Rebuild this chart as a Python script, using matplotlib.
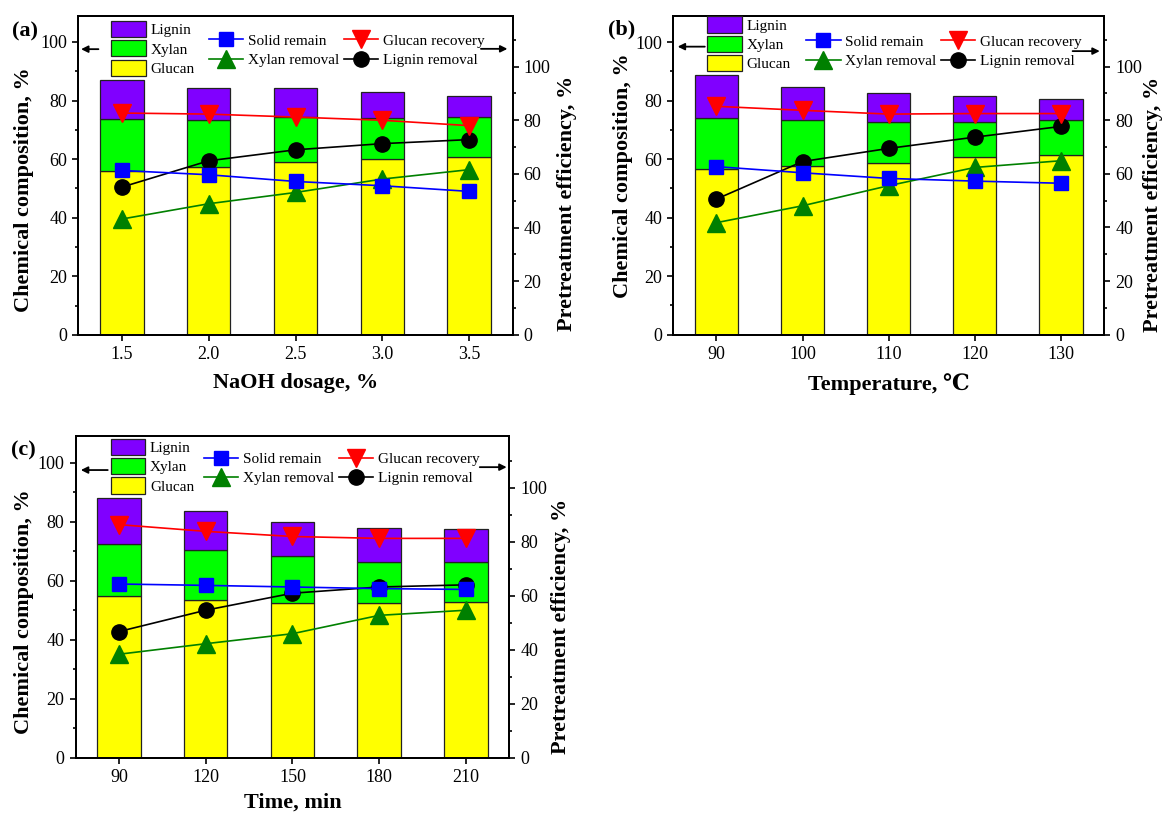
import numpy as np
import matplotlib.pyplot as plt
from matplotlib.patches import Patch
from matplotlib.ticker import MultipleLocator

plt.rcParams['font.family'] = ['Liberation Serif', 'DejaVu Serif', 'DejaVu Sans']

# (a) NaOH dosage
naoh = ['1.5', '2.0', '2.5', '3.0', '3.5']
glucan_a = [56.0, 57.5, 59.0, 60.0, 60.8]
xylan_a = [17.6, 15.8, 15.4, 14.1, 13.5]
lignin_a = [13.5, 11.1, 10.0, 8.7, 7.4]
solid_a = [61.3, 59.7, 57.2, 55.6, 53.5]
glurec_a = [82.7, 82.3, 81.2, 80.0, 78.0]
xylrem_a = [43.2, 48.9, 53.1, 58.1, 61.6]
ligrem_a = [55.1, 64.9, 69.0, 71.3, 72.8]

# (b) temperature
temps = ['90', '100', '110', '120', '130']
glucan_b = [56.5, 57.5, 58.8, 60.6, 61.3]
xylan_b = [17.7, 16.0, 14.0, 12.2, 11.9]
lignin_b = [14.7, 11.0, 9.7, 8.7, 7.4]
solid_b = [62.7, 60.4, 58.3, 57.3, 56.5]
glurec_b = [85.2, 83.7, 82.3, 82.5, 82.5]
xylrem_b = [41.8, 48.1, 55.6, 62.4, 64.9]
ligrem_b = [50.6, 64.6, 69.5, 73.7, 77.7]

# (c) time
times = ['90', '120', '150', '180', '210']
glucan_c = [54.7, 53.4, 52.3, 52.4, 52.8]
xylan_c = [17.9, 16.9, 16.0, 14.1, 13.6]
lignin_c = [15.6, 13.4, 11.6, 11.3, 11.1]
solid_c = [64.3, 63.8, 63.2, 62.6, 62.3]
glurec_c = [86.3, 83.8, 81.9, 81.2, 81.2]
xylrem_c = [38.3, 42.2, 45.9, 52.7, 54.6]
ligrem_c = [46.7, 54.6, 60.9, 63.2, 64.0]

fig = plt.figure(figsize=(11.64, 8.14), dpi=100)


def panel(rect, tag, ticks, xlabel, glucan, xylan, lignin,
          solid, glurec, xylrem, ligrem, lay):
    ax = fig.add_axes(rect)
    x = np.arange(len(ticks))
    glucan = np.array(glucan)
    xylan = np.array(xylan)
    lignin = np.array(lignin)
    ax.bar(x, glucan, 0.5, color='#FFFF00', edgecolor='#222222', lw=0.9)
    ax.bar(x, xylan, 0.5, bottom=glucan, color='#00FF00', edgecolor='#222222', lw=0.9)
    ax.bar(x, lignin, 0.5, bottom=glucan + xylan, color='#8000FF', edgecolor='#222222', lw=0.9)
    ax.set_xlim(-0.5, 4.5)
    ax.set_ylim(0, 109)
    ax.set_xticks(x)
    ax.set_xticklabels(ticks)
    ax.yaxis.set_major_locator(MultipleLocator(20))
    ax.yaxis.set_minor_locator(MultipleLocator(10))

    ax2 = ax.twinx()
    ax2.set_ylim(0, 119)
    ax2.yaxis.set_major_locator(MultipleLocator(20))
    ax2.yaxis.set_minor_locator(MultipleLocator(10))
    l4, = ax2.plot(x, ligrem, '-o', color='k', ms=11, lw=1.2)
    l2, = ax2.plot(x, xylrem, '-^', color='#008000', ms=12.5, lw=1.2)
    l3, = ax2.plot(x, glurec, '-v', color='#FF0000', ms=12.5, lw=1.2)
    l1, = ax2.plot(x, solid, '-s', color='#0000FF', ms=10.5, lw=1.2)

    for a in (ax, ax2):
        for s in a.spines.values():
            s.set_linewidth(1.4)
    ax.tick_params(axis='both', which='both', direction='out', width=1.2,
                   labelsize=13, right=False, top=False)
    ax.tick_params(which='major', length=4.5)
    ax.tick_params(which='minor', length=2.5)
    ax.tick_params(axis='x', which='minor', bottom=False)
    ax2.tick_params(axis='y', which='both', direction='out', width=1.2, labelsize=13)
    ax2.tick_params(which='major', length=4.5)
    ax2.tick_params(which='minor', length=2.5)

    ax.set_xlabel(xlabel, fontsize=16, fontweight='bold')
    ax.xaxis.set_label_coords(0.5, lay['xl'])
    ax.set_ylabel('Chemical composition, %', fontsize=16, fontweight='bold', va='center')
    ax.yaxis.set_label_coords(lay['yl'][0], lay['yl'][1])
    ax2.set_ylabel('Pretreatment efficiency, %', fontsize=16, fontweight='bold', va='center')
    ax2.yaxis.set_label_coords(lay['yr'][0], lay['yr'][1])

    bars = [Patch(facecolor='#8000FF', edgecolor='#222222', lw=0.9, label='Lignin'),
            Patch(facecolor='#00FF00', edgecolor='#222222', lw=0.9, label='Xylan'),
            Patch(facecolor='#FFFF00', edgecolor='#222222', lw=0.9, label='Glucan')]
    leg1 = ax2.legend(handles=bars, loc='upper left', bbox_to_anchor=lay['lb'],
                      frameon=False, fontsize=11, borderpad=0, borderaxespad=0,
                      handlelength=2.26, handleheight=1.25, labelspacing=0.2,
                      handletextpad=0.3)
    ax2.add_artist(leg1)
    ax2.legend(handles=[l1, l2, l3, l4],
               labels=['Solid remain', 'Xylan removal', 'Glucan recovery', 'Lignin removal'],
               loc='upper left', bbox_to_anchor=lay['ll'], ncol=2, frameon=False,
               fontsize=11, borderpad=0, borderaxespad=0, handlelength=2.26,
               labelspacing=0.37, handletextpad=0.3, columnspacing=0.3)

    arr = dict(arrowstyle='-|>', color='k', lw=1.3, mutation_scale=10, shrinkA=0, shrinkB=0)
    ax.annotate('', xy=(lay['al'][1], lay['al'][2]), xytext=(lay['al'][0], lay['al'][2]),
                xycoords='axes fraction', arrowprops=arr)
    ax.annotate('', xy=(lay['ar'][1], lay['ar'][2]), xytext=(lay['ar'][0], lay['ar'][2]),
                xycoords='axes fraction', arrowprops=arr)
    fig.text(lay['tag'][0], lay['tag'][1], tag, fontsize=16, fontweight='bold', va='center')
    return ax


panel([0.0674, 0.5885, 0.373, 0.3923], '(a)', naoh, 'NaOH dosage, %',
      glucan_a, xylan_a, lignin_a, solid_a, glurec_a, xylrem_a, ligrem_a,
      dict(xl=-0.12, yl=(-0.1255, 0.454), yr=(1.125, 0.413),
           lb=(0.076, 0.983), ll=(0.30, 0.943),
           al=(0.046, 0.006, 0.895), ar=(0.927, 0.988, 0.896),
           tag=(12 / 1164, 1 - 31.7 / 814)))

panel([0.5785, 0.5888, 0.370, 0.3919], '(b)', temps, 'Temperature, \u2103',
      glucan_b, xylan_b, lignin_b, solid_b, glurec_b, xylrem_b, ligrem_b,
      dict(xl=-0.12, yl=(-0.117, 0.5), yr=(1.113, 0.409),
           lb=(0.079, 0.998), ll=(0.308, 0.94),
           al=(0.073, 0.01, 0.903), ar=(0.927, 0.99, 0.889),
           tag=(608 / 1164, 1 - 29 / 814)))

panel([0.065, 0.0692, 0.3725, 0.3948], '(c)', times, 'Time, min',
      glucan_c, xylan_c, lignin_c, solid_c, glurec_c, xylrem_c, ligrem_c,
      dict(xl=-0.11, yl=(-0.119, 0.453), yr=(1.12, 0.408),
           lb=(0.081, 0.992), ll=(0.295, 0.95),
           al=(0.074, 0.012, 0.895), ar=(0.932, 0.994, 0.904),
           tag=(11 / 1164, 1 - 450 / 814)))

fig.savefig('out.png', dpi=100)
